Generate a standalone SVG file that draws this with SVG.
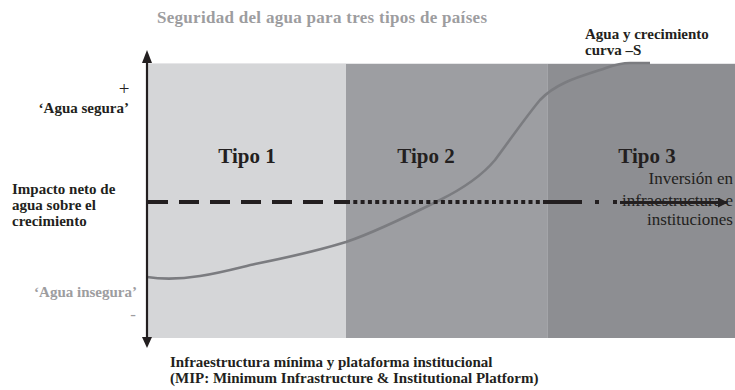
<svg xmlns="http://www.w3.org/2000/svg" width="735" height="390" viewBox="0 0 735 390">
<style>
text{font-family:"Liberation Serif","Times New Roman",serif;fill:#231f20}
.b{font-weight:bold}
.g{fill:#9d9d9f}
.tipo{font-weight:bold;font-size:21px;text-anchor:middle}
.lab{font-weight:bold;font-size:15px}
.inv{font-size:17px;text-anchor:end}
.ax{stroke:#231f20;stroke-width:2.2;fill:none}
</style>
<defs>
<marker id="ah" viewBox="0 0 10 10" refX="9" refY="5" markerWidth="10" markerHeight="10" markerUnits="userSpaceOnUse" orient="auto">
<path d="M0,0 L10,5 L0,10 z" fill="#231f20"/>
</marker>
</defs>

<text class="b g" x="157" y="23" font-size="17" textLength="330" lengthAdjust="spacing">Seguridad del agua para tres tipos de países</text>

<g id="tipo1">
<rect x="148" y="63" width="198" height="275" fill="#d5d6d8"/>
<text class="tipo" x="247" y="163">Tipo 1</text>
</g>
<g id="tipo2">
<rect x="346" y="63" width="201" height="275" fill="#9d9ea2"/>
<text class="tipo" x="426" y="163">Tipo 2</text>
</g>
<g id="tipo3">
<rect x="547" y="63" width="188" height="275" fill="#8d8e92"/>
<line x1="547.5" y1="63" x2="547.5" y2="338" stroke="#a4a5a9" stroke-width="1"/>
<text class="tipo" x="647" y="163">Tipo 3</text>
</g>
<line x1="148" y1="63.5" x2="735" y2="63.5" stroke="#e6e6e8" stroke-width="1"/>

<g id="curve">
<path d="M147,277 C160,279 175,280 200,276 C225,272 245,266 255,264 C285,258 320,250 346,242 C370,234 400,220 440,200 C460,190 480,178 495,160 C510,140 525,118 540,100 C555,84 575,78 600,70 C612,66 618,63 630,63 L650,63" fill="none" stroke="#7b7c80" stroke-width="2.6"/>
</g>

<g id="axis">
<line class="ax" x1="147" y1="62" x2="147" y2="337"/>
<path d="M142,63 L147,50 L152,63 z" fill="#231f20"/>
<path d="M142,337 L152,337 L147,348 z" fill="#231f20"/>
</g>

<g id="connectors">
<line x1="148" y1="202" x2="346" y2="202" stroke="#231f20" stroke-width="4" stroke-dasharray="20 11"/>
<line x1="346" y1="202" x2="540" y2="202" stroke="#231f20" stroke-width="4" stroke-dasharray="4 3.3"/>
<line x1="543" y1="202" x2="582" y2="202" stroke="#231f20" stroke-width="4"/>
<line x1="595" y1="202" x2="599" y2="202" stroke="#231f20" stroke-width="4"/>
<line x1="613" y1="202" x2="617" y2="202" stroke="#231f20" stroke-width="4"/>
<line x1="620" y1="202.5" x2="727" y2="202.5" stroke="#231f20" stroke-width="3" marker-end="url(#ah)"/>
</g>

<g id="inversion">
<text class="inv" x="733" y="184">Inversión en</text>
<text class="inv" x="733" y="206">infraestructura e</text>
<text class="inv" x="733" y="225">instituciones</text>
</g>

<g id="scurve-label">
<text class="lab" x="585" y="39">Agua y crecimiento</text>
<text class="lab" x="585" y="55">curva –S</text>
</g>

<g id="y-labels">
<text x="124" y="95" font-size="19" text-anchor="middle">+</text>
<text class="lab" x="129" y="113" text-anchor="end">‘Agua segura’</text>
<text class="lab" x="12" y="194">Impacto neto de</text>
<text class="lab" x="12" y="210">agua sobre el</text>
<text class="lab" x="12" y="226">crecimiento</text>
<text class="lab g" x="137" y="297" text-anchor="end">‘Agua insegura’</text>
<text class="g" x="133" y="320" font-size="17" text-anchor="middle">-</text>
</g>

<g id="x-label">
<text class="lab" x="170" y="367">Infraestructura mínima y plataforma institucional</text>
<text class="lab" x="170" y="383">(MIP: Minimum Infrastructure &amp; Institutional Platform)</text>
</g>
</svg>
